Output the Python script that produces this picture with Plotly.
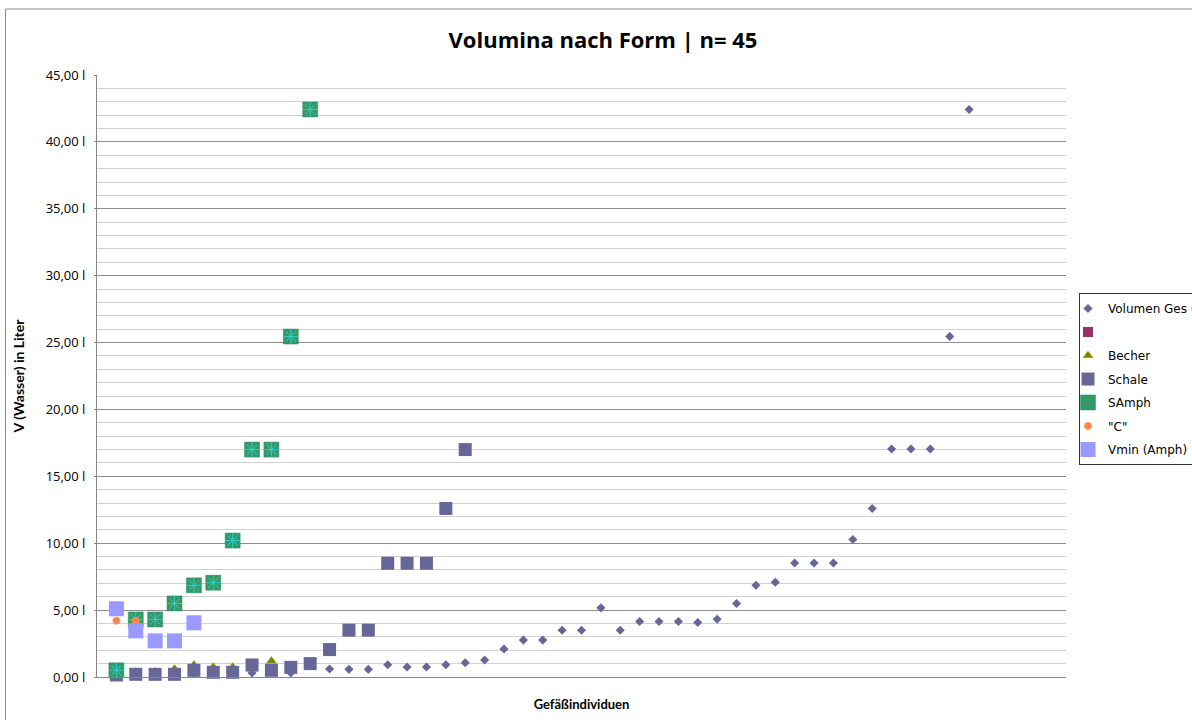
import plotly.graph_objects as go

# ---- data ----
vol_ges = [0.15, 0.2, 0.2, 0.2, 0.3, 0.3, 0.3, 0.3, 0.4, 0.3, 1.0,
           0.6, 0.57, 0.57, 0.92, 0.75, 0.75, 0.92, 1.07, 1.27, 2.09,
           2.76, 2.76, 3.5, 3.5, 5.17, 3.5, 4.15, 4.15, 4.15, 4.07,
           4.32, 5.49, 6.86, 7.08, 8.52, 8.52, 8.52, 10.28, 12.59,
           17.04, 17.04, 17.04, 25.46, 42.42]
leer = [None]
becher = [0.3, 0.4, 0.4, 0.6, 0.9, 0.75, 0.75, 0.6, 1.2]
schale = [0.15, 0.2, 0.2, 0.2, 0.5, 0.35, 0.35, 0.9, 0.5, 0.72, 1.0,
          2.05, 3.5, 3.5, 8.5, 8.5, 8.5, 12.6, 17.0]
samph = [0.5, 4.3, 4.3, 5.5, 6.85, 7.05, 10.2, 17.0, 17.0, 25.45, 42.42]
c_vals = [4.2, 4.2]
vmin_amph = [5.1, 3.45, 2.7, 2.7, 4.05]

y_tick_vals = [0, 5, 10, 15, 20, 25, 30, 35, 40, 45]
y_tick_text = ["0,00 l", "5,00 l", "10,00 l", "15,00 l", "20,00 l",
               "25,00 l", "30,00 l", "35,00 l", "40,00 l", "45,00 l"]


def idx(vals):
    return list(range(1, len(vals) + 1))


fig = go.Figure()

fig.add_trace(go.Scatter(x=idx(vol_ges), y=vol_ges, mode="markers", name="Volumen Ges (l)",
                         legendgroup="g1", cliponaxis=False,
                         marker=dict(symbol="diamond", size=7, color="#666699")))
fig.add_trace(go.Scatter(x=idx(leer), y=leer, mode="markers", name=" ",
                         legendgroup="g2", cliponaxis=False,
                         marker=dict(symbol="square", size=10, color="#993366")))
fig.add_trace(go.Scatter(x=idx(becher), y=becher, mode="markers", name="Becher",
                         legendgroup="g3", cliponaxis=False,
                         marker=dict(symbol="triangle-up", size=9, color="#808000",
                                     line=dict(color="#a8a840", width=0.5))))
fig.add_trace(go.Scatter(x=idx(schale), y=schale, mode="markers", name="Schale",
                         legendgroup="g4", cliponaxis=False,
                         marker=dict(symbol="square", size=13, color="#666699")))
fig.add_trace(go.Scatter(x=idx(samph), y=samph, mode="markers", name="SAmph",
                         legendgroup="g5", cliponaxis=False,
                         marker=dict(symbol="square", size=15, color="#339966",
                                     line=dict(color="#2f8a5c", width=0.5))))
fig.add_trace(go.Scatter(x=idx(samph), y=samph, mode="markers", name="SAmph",
                         legendgroup="g5", showlegend=False, cliponaxis=False,
                         hoverinfo="skip",
                         marker=dict(symbol="asterisk-open", size=12, color="#33cccc",
                                     line=dict(color="#33cccc", width=1))))
fig.add_trace(go.Scatter(x=idx(c_vals), y=c_vals, mode="markers", name='"C"',
                         legendgroup="g6", cliponaxis=False,
                         marker=dict(symbol="circle", size=7, color="#ff8060",
                                     line=dict(color="#ffa030", width=1))))
fig.add_trace(go.Scatter(x=idx(vmin_amph), y=vmin_amph, mode="markers", name="Vmin (Amph)",
                         legendgroup="g7", cliponaxis=False,
                         marker=dict(symbol="square", size=15, color="#9999ff")))

L, R, T, B = 97, 126, 75, 43
W, H = 1192, 720
pw = W - L - R
ph = H - T - B

fig.update_layout(
    width=W, height=H,
    margin=dict(l=L, r=R, t=T, b=B, autoexpand=False),
    paper_bgcolor="white", plot_bgcolor="white",
    title=dict(text="Volumina nach Form | n= 45", x=603 / W, xanchor="center",
               y=1 - 40 / H, yanchor="middle",
               font=dict(family="Open Sans", size=22, color="black", weight="bold")),
    legend=dict(x=(1079 - L) / pw, y=(677 - 293) / ph, xanchor="left", yanchor="top",
                bordercolor="#333333", borderwidth=1, bgcolor="white",
                font=dict(family="DejaVu Sans", size=12, color="black"),
                tracegroupgap=4.5, traceorder="grouped", itemwidth=30,
                indentation=-12),
    showlegend=True,
    xaxis=dict(range=[0, 50], showticklabels=False, showgrid=False, zeroline=False,
               showline=True, linecolor="#868686", linewidth=1, ticks="",
               title=dict(text="Gefäßindividuen", standoff=22,
                          font=dict(family="Lato", size=13, color="black", weight="bold"))),
    yaxis=dict(range=[0, 45], tickvals=y_tick_vals, ticktext=y_tick_text,
               showgrid=True, gridcolor="#8c8c8c", gridwidth=1,
               minor=dict(dtick=1, showgrid=True, gridcolor="#d0d0d0", gridwidth=1),
               showline=True, linecolor="#868686", linewidth=1, zeroline=False,
               ticks="outside", ticklen=2, tickcolor="#868686", ticklabelstandoff=6,
               tickfont=dict(family="Open Sans", size=13, color="black"),
               title=dict(text="V (Wasser) in Liter", standoff=17,
                          font=dict(family="Lato", size=14, color="black", weight="bold"))),
    shapes=[dict(type="rect", xref="paper", yref="paper",
                 x0=(5.5 - L) / pw, x1=1.3, y0=-0.3, y1=(H - B - 9) / ph,
                 line=dict(color="#888888", width=1), fillcolor="rgba(0,0,0,0)",
                 layer="below")],
)

fig.write_html("out.html", config={"displayModeBar": False},
               post_script="document.body.style.margin='0';document.body.style.overflow='hidden';")
